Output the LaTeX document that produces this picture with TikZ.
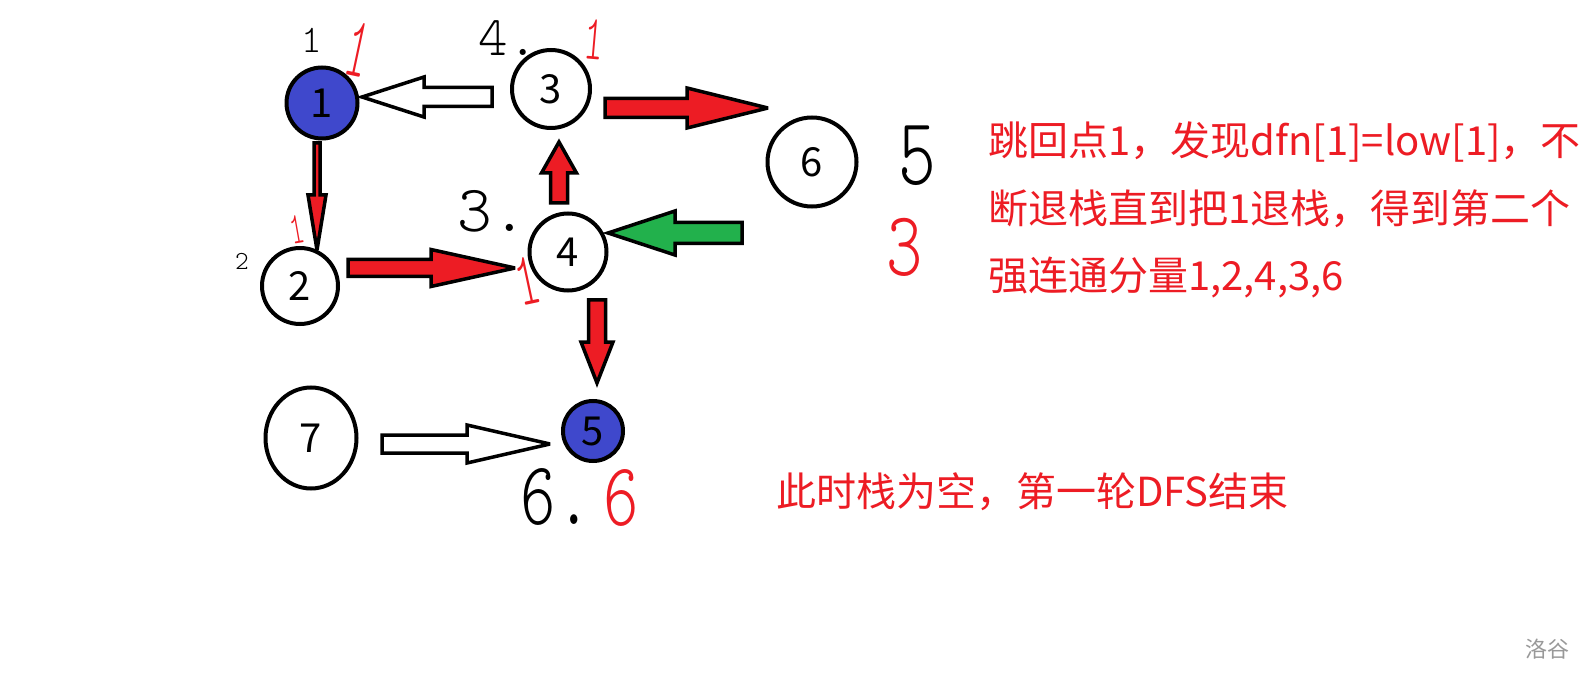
\documentclass[tikz,border=0pt]{standalone}
\usepackage{fontspec}
\setmainfont{Noto Sans CJK SC}
\newfontfamily\handfont{lmmonolt10-regular.otf}
\usetikzlibrary{positioning,calc,shapes.geometric}
\definecolor{paintblue}{RGB}{63,72,204}
\definecolor{paintred}{RGB}{237,28,36}
\definecolor{paintgreen}{RGB}{34,177,76}
\tikzset{
  vertex/.style={circle, draw=black, line width=4pt, fill=white, inner sep=0pt,
                 font=\fontsize{40}{40}\selectfont},
  bluevertex/.style={vertex, fill=paintblue},
  blockarr/.style={draw=black, line width=3.5pt, line join=miter, miter limit=4},
  redarr/.style={blockarr, fill=paintred},
  whitearr/.style={blockarr, fill=white},
  greenarr/.style={blockarr, fill=paintgreen},
  hand/.style={inner sep=0pt},
  handred/.style={hand, text=paintred},
  note/.style={text=paintred, align=left, anchor=west, inner sep=0pt}
}
% #1 style, #2 tail, #3 tip, #4 half shaft, #5 half head, #6 head length
\newcommand{\blockarrow}[6][]{%
  \path let \p1=#2, \p2=#3 in \pgfextra{%
    \pgfmathsetmacro\baang{atan2(\y2-\y1,\x2-\x1)}%
    \pgfmathsetmacro\balen{veclen(\x2-\x1,\y2-\y1)}%
    \global\let\baang\baang\global\let\balen\balen};
  \draw[#1, shift={#2}, rotate=\baang]
    (0pt,-#4pt) -- ({\balen pt-#6pt},-#4pt) -- ({\balen pt-#6pt},-#5pt) -- (\balen pt,0pt)
    -- ({\balen pt-#6pt},#5pt) -- ({\balen pt-#6pt},#4pt) -- (0pt,#4pt) -- cycle;
}
\newcommand{\handsize}[1]{\handfont\fontsize{#1}{#1}\selectfont}

\begin{document}
\begin{tikzpicture}[x=1pt,y=-1pt]
  \path[use as bounding box, fill=white] (0,0) rectangle (1594,684);

  \node[bluevertex, minimum size=71pt] (v1) at (322,103) {1};
  \node[vertex, minimum size=76pt] (v2) at (300,286) {2};
  \node[vertex, minimum size=78pt] (v3) at (551,89) {3};
  \node[vertex, minimum size=77pt] (v4) at (568,252) {4};
  \node[bluevertex, minimum size=60pt] (v5) at (593,431) {5};
  \node[vertex, minimum size=89pt] (v6) at (812,162) {6};
  \node[vertex, ellipse, minimum width=91pt, minimum height=101pt] (v7) at (311,438) {7};

  \blockarrow[whitearr]{($(v3)+(-59,8)$)}{($(v1)+(40,-6)$)}{9.5}{20}{62}
  \blockarrow[redarr]{($(v1)+(-5,40)$)}{($(v2)+(17,-36)$)}{3}{9}{55}
  \blockarrow[redarr]{($(v2)+(48,-18)$)}{($(v4)+(-53,16)$)}{8.5}{18.5}{84}
  \blockarrow[redarr]{($(v4)+(-9,-49)$)}{($(v3)+(8,53)$)}{8.5}{17.5}{31}
  \blockarrow[redarr]{($(v3)+(54,19)$)}{($(v6)+(-44,-54)$)}{9.5}{20}{81}
  \coordinate (g) at ($(v4)+(174,-19)$);
  \blockarrow[greenarr]{(g)}{($(v4)+(40,-19)$)}{10.5}{22}{67}
  \blockarrow[redarr]{($(v4)+(29,48)$)}{($(v5)+(4,-48)$)}{8.5}{16}{41}
  \blockarrow[whitearr]{($(v7)+(71,6)$)}{($(v5)+(-43,13)$)}{9}{19}{83}

  \node[hand, font=\handsize{39}] (d1) at (312,40) {1};
  \node[handred, font=\handsize{72}, rotate=-12, xscale=0.6, yscale=1.2] (l1) at (358,50) {1};
  \node[hand, font=\handsize{56}] (d3) at (508,38) {4.};
  \node[handred, font=\handsize{64}, rotate=-5, xscale=0.6] (l3) at (594,40) {1};
  \node[handred, font=\handsize{45}, rotate=10, xscale=0.6] (l2) at (297,229) {1};
  \node[hand, font=\handsize{26}] (d2) at (242,261) {2};
  \node[hand, font=\handsize{66}] (d4) at (492,211) {3.};
  \node[handred, font=\handsize{76}, rotate=12, xscale=0.6] (l4) at (527,281) {1};
  \node[hand, font=\handsize{96}, xscale=0.75] (d6) at (917,156) {5};
  \node[handred, font=\handsize{92}, xscale=0.75] (l6) at (905,247) {3};
  \node[hand, font=\handsize{90}, xscale=0.75] (d5) at (556,497) {6.};
  \node[handred, font=\handsize{90}, xscale=0.75] (l5) at (621,498) {6};

  \node[note, font=\fontsize{40}{67.5}\selectfont] (msg) at (988,210)
    {跳回点1，发现dfn[1]=low[1]，不\\断退栈直到把1退栈，得到第二个\\强连通分量1,2,4,3,6};
  \node[note, font=\fontsize{40}{40}\selectfont] (end) at (776,492)
    {此时栈为空，第一轮DFS结束};
  \node[text=black!40, font=\fontsize{22}{22}\selectfont, inner sep=0pt] (mark) at (1547,649) {洛谷};
\end{tikzpicture}
\end{document}
